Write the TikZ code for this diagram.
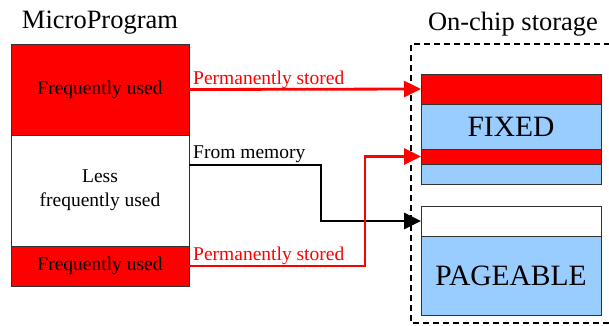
\documentclass[tikz,border=0pt]{standalone}
\usepackage{fontspec}
\setmainfont{Liberation Serif}
\usetikzlibrary{arrows.meta,positioning,calc}

\definecolor{storered}{RGB}{255,0,0}
\definecolor{storeblue}{RGB}{153,204,255}
\definecolor{edgegray}{RGB}{50,50,50}

\tikzset{
  cell/.style={draw=edgegray, line width=0.9pt, inner sep=0pt, outer sep=0pt, align=center},
  leftcell/.style={cell, minimum width=178pt, font=\fontsize{19.5}{24}\selectfont},
  rightcell/.style={cell, minimum width=180pt, font=\fontsize{29.5}{32}\selectfont},
  hot/.style={fill=storered},
  cold/.style={fill=storeblue},
  title/.style={font=\fontsize{26.5}{30}\selectfont, inner sep=0pt, anchor=base},
  lbl/.style={font=\fontsize{19.5}{22}\selectfont, inner sep=0pt, anchor=base west},
  permline/.style={storered, line width=2.8pt, -{Triangle[length=17pt,width=16pt]}},
  memline/.style={black, line width=2.8pt, -{Triangle[length=17pt,width=16pt]}}
}

\begin{document}
\begin{tikzpicture}[x=1pt,y=-1pt]
  \useasboundingbox (0,0) rectangle (609,325);

  % titles
  \node[title] (mptitle) at (100,28) {MicroProgram};
  \node[title] (chiptitle) at (513,30) {On-chip storage};

  % on-chip frame
  \draw[dashed, dash pattern=on 6pt off 4pt, line width=1.3pt] (620,44) -- (411,44) -- (411,323) -- (620,323);

  % microprogram column
  \node[leftcell, hot, minimum height=91pt] (freqtop) at (100,89.5) {Frequently used};
  \node[leftcell, fill=white, minimum height=111pt] (less) at (100,190.5) {Less\\frequently used};
  \node[leftcell, hot, minimum height=40pt] (freqbot) at (100,266) {Frequently used};

  % fixed part
  \node[rightcell, hot, minimum height=30pt] (fixtop) at (511,89) {};
  \node[rightcell, cold, minimum height=45pt] (fixmain) at (511,126.5) {FIXED};
  \node[rightcell, hot, minimum height=15pt] (fixband) at (511,156.5) {};
  \node[rightcell, cold, minimum height=20pt] (fixlow) at (511,174) {};

  % pageable part
  \node[rightcell, fill=white, minimum height=30pt] (pagetop) at (511,221) {};
  \node[rightcell, cold, minimum height=79pt] (pagemain) at (511,275.5) {PAGEABLE};

  % connectors
  \draw[permline] (freqtop.east) -- (fixtop.west);
  \draw[memline] ([yshift=-30pt]less.north east) -- ++(132,0) |- (pagetop.west);
  \draw[permline] (freqbot.east) -- ++(176,0) |- (fixband.west);

  % labels
  \node[lbl, text=storered] (permtoplbl) at (193,84) {Permanently stored};
  \node[lbl] (memlbl) at (193,158) {From memory};
  \node[lbl, text=storered] (permbotlbl) at (193,260) {Permanently stored};
\end{tikzpicture}
\end{document}
